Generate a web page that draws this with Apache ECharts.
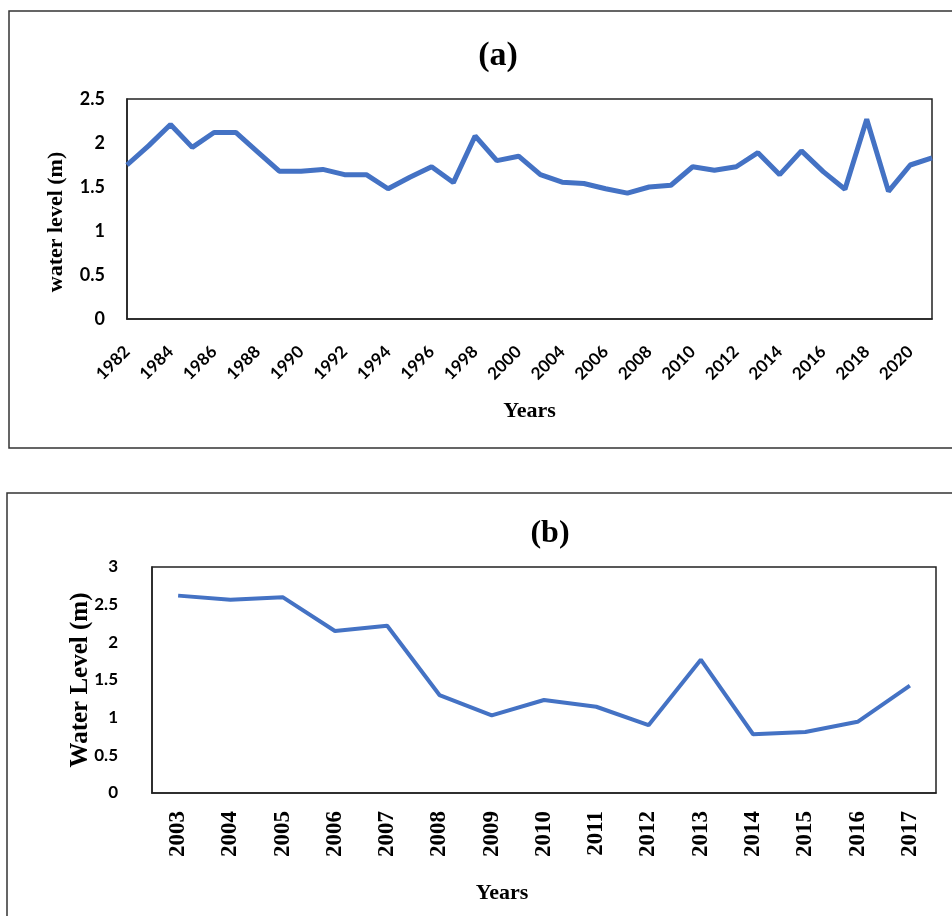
<!DOCTYPE html>
<html>
<head>
<meta charset="utf-8">
<script src="https://cdn.jsdelivr.net/npm/echarts@6/dist/echarts.min.js"></script>
<style>
html,body{margin:0;padding:0;background:#fff;}
#c{width:952px;height:916px;}
</style>
</head>
<body>
<div id="c"></div>
<script>
// ---- Data ----
const yearsA = ['1982','1983','1984','1985','1986','1987','1988','1989','1990','1991','1992','1993','1994','1995','1996','1997','1998','1999','2000','2003','2004','2005','2006','2007','2008','2009','2010','2011','2012','2013','2014','2015','2016','2017','2018','2019','2020','2021'];
const levelA = [1.75,1.97,2.21,1.95,2.12,2.12,1.90,1.68,1.68,1.70,1.64,1.64,1.48,1.61,1.73,1.55,2.08,1.80,1.85,1.64,1.555,1.54,1.48,1.43,1.50,1.52,1.73,1.69,1.73,1.89,1.64,1.91,1.675,1.475,2.27,1.45,1.75,1.83];

const yearsB = ['2003','2004','2005','2006','2007','2008','2009','2010','2011','2012','2013','2014','2015','2016','2017'];
const levelB = [2.62,2.565,2.60,2.15,2.22,1.30,1.03,1.235,1.145,0.90,1.77,0.78,0.81,0.945,1.425];

const titleA = '(a)';
const titleB = '(b)';
const yNameA = 'water level (m)';
const yNameB = 'Water Level (m)';
const xName = 'Years';

// ---- Chart ----
const chart = echarts.init(document.getElementById('c'), null, {renderer:'canvas'});
const serif = '"Liberation Serif", "Times New Roman", serif';
const sans = 'Lato, "Noto Sans", sans-serif';
const blue = '#4472C4';

const option = {
  animation: false,
  backgroundColor: '#fff',
  graphic: [
    {type:'rect', shape:{x:9, y:11, width:960, height:437}, style:{fill:'none', stroke:'#333', lineWidth:1.5}},
    {type:'rect', shape:{x:7, y:493, width:960, height:460}, style:{fill:'none', stroke:'#333', lineWidth:1.5}},
    {type:'text', x:498, y:56, style:{text:titleA, align:'center', verticalAlign:'middle', font:'bold 34px ' + serif, fill:'#000'}},
    {type:'text', x:550, y:534, style:{text:titleB, align:'center', verticalAlign:'middle', font:'bold 32px ' + serif, fill:'#000'}}
  ],
  grid: [
    {left:127, top:99, right:20, bottom:597, show:true, borderColor:'#222', borderWidth:1.5, containLabel:false},
    {left:152, top:567, right:16, bottom:123, show:true, borderColor:'#222', borderWidth:1.5, containLabel:false}
  ],
  xAxis: [
    {
      type:'category', gridIndex:0, data:yearsA, boundaryGap:false,
      axisLine:{show:true, lineStyle:{color:'#222', width:1.5}},
      axisTick:{show:false},
      axisLabel:{interval:1, rotate:45, margin:30, fontFamily:sans, fontWeight:'bold', fontSize:17, color:'#000'},
      name:xName, nameLocation:'middle', nameGap:81, nameMoveOverlap:false,
      nameTextStyle:{fontFamily:serif, fontWeight:'bold', fontSize:22, color:'#000'},
      splitLine:{show:false}
    },
    {
      type:'category', gridIndex:1, data:yearsB, boundaryGap:true,
      axisLine:{show:true, lineStyle:{color:'#222', width:1.5}},
      axisTick:{show:false},
      axisLabel:{interval:0, rotate:90, margin:18, fontFamily:serif, fontWeight:'bold', fontSize:23, color:'#000'},
      name:xName, nameLocation:'middle', nameGap:89, nameMoveOverlap:false,
      nameTextStyle:{fontFamily:serif, fontWeight:'bold', fontSize:22, color:'#000', padding:[0,84,0,0]},
      splitLine:{show:false}
    }
  ],
  yAxis: [
    {
      type:'value', gridIndex:0, min:0, max:2.5, interval:0.5,
      axisLine:{show:true, lineStyle:{color:'#222', width:1.5}},
      axisTick:{show:false},
      splitLine:{show:false},
      axisLabel:{margin:22, fontFamily:sans, fontWeight:'bold', fontSize:18, color:'#000'},
      name:yNameA, nameLocation:'middle', nameGap:60, nameMoveOverlap:false,
      nameTextStyle:{fontFamily:serif, fontWeight:'bold', fontSize:22, color:'#000', padding:[0,26,0,0]}
    },
    {
      type:'value', gridIndex:1, min:0, max:3, interval:0.5,
      axisLine:{show:true, lineStyle:{color:'#222', width:1.5}},
      axisTick:{show:false},
      splitLine:{show:false},
      axisLabel:{margin:34, fontFamily:sans, fontWeight:'bold', fontSize:17, color:'#000'},
      name:yNameB, nameLocation:'middle', nameGap:59, nameMoveOverlap:false,
      nameTextStyle:{fontFamily:serif, fontWeight:'bold', fontSize:25, color:'#000'}
    }
  ],
  series: [
    {type:'line', xAxisIndex:0, yAxisIndex:0, data:levelA, showSymbol:false, symbol:'none',
     lineStyle:{color:blue, width:5}, itemStyle:{color:blue}},
    {type:'line', xAxisIndex:1, yAxisIndex:1, data:levelB, showSymbol:false, symbol:'none',
     lineStyle:{color:blue, width:4}, itemStyle:{color:blue}}
  ]
};
chart.setOption(option);
</script>
</body>
</html>
